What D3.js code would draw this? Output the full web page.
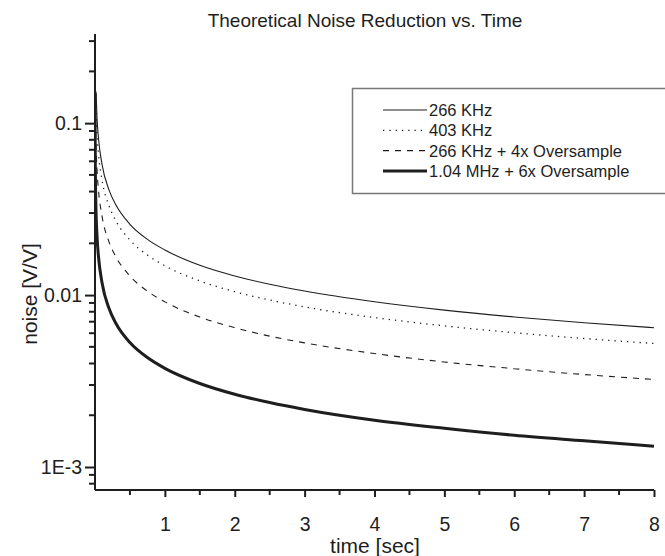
<!DOCTYPE html>
<html>
<head>
<meta charset="utf-8">
<script src="https://cdn.jsdelivr.net/npm/d3@7"></script>
<style>
  body { margin: 0; background: #fff; }
  svg { display: block; font-family: "Liberation Sans", Arial, sans-serif; }
</style>
</head>
<body>
<svg id="chart" width="665" height="556"></svg>
<script>
// values: [time (s), noise (V/V)]
var khz266 = [[0.015, 0.1492], [0.03, 0.1055], [0.05, 0.0817], [0.1, 0.0578], [0.2, 0.0409],
    [0.3, 0.0334], [0.5, 0.0258], [0.75, 0.0211], [1, 0.0183], [1.5, 0.0149], [2, 0.01292],
    [2.5, 0.01156], [3, 0.01055], [4, 0.00914], [5, 0.00817], [6, 0.00746], [7, 0.00691], [8, 0.00646]];
var khz403 = [[0.01, 0.148], [0.03, 0.0854], [0.05, 0.0662], [0.1, 0.0468], [0.2, 0.0331],
    [0.3, 0.0270], [0.5, 0.0209], [0.75, 0.0171], [1, 0.0148], [1.5, 0.01208], [2, 0.01047],
    [2.5, 0.00936], [3, 0.00854], [4, 0.0074], [5, 0.00662], [6, 0.00604], [7, 0.00559], [8, 0.00523]];
var khz266x4 = [[0.004, 0.1444], [0.01, 0.0913], [0.03, 0.0527], [0.05, 0.0408], [0.1, 0.0289],
    [0.2, 0.0204], [0.3, 0.01667], [0.5, 0.01291], [0.75, 0.01054], [1, 0.00913], [1.5, 0.00745],
    [2, 0.00646], [2.5, 0.00577], [3, 0.00527], [4, 0.00457], [5, 0.00408], [6, 0.00373], [7, 0.00345], [8, 0.00323]];
var mhz104x6 = [[0.0006, 0.1530], [0.002, 0.0838], [0.005, 0.0530], [0.01, 0.0375], [0.03, 0.02164],
    [0.05, 0.01676], [0.1, 0.01185], [0.2, 0.00838], [0.3, 0.00684], [0.5, 0.0053], [0.75, 0.00433],
    [1, 0.00375], [1.5, 0.00306], [2, 0.00265], [2.5, 0.00237], [3, 0.00216], [4, 0.00187],
    [5, 0.00168], [6, 0.00153], [7, 0.00142], [8, 0.00132]];

var seriesNames = ["266 KHz", "403 KHz", "266 KHz + 4x Oversample", "1.04 MHz + 6x Oversample"];
var xMajor = [1, 2, 3, 4, 5, 6, 7, 8];
var xMinor = [0.5, 1.5, 2.5, 3.5, 4.5, 5.5, 6.5, 7.5];
var yMajor = [0.1, 0.01, 0.001];
var yMajorLabels = ["0.1", "0.01", "1E-3"];
var yMinor = [0.3, 0.2, 0.09, 0.08, 0.07, 0.06, 0.05, 0.04, 0.03, 0.02,
    0.009, 0.008, 0.007, 0.006, 0.005, 0.004, 0.003, 0.002, 0.0009, 0.0008];

var ink = "#1e1e1e";
var svg = d3.select("#chart");

var x = d3.scaleLinear().domain([0, 8]).range([95, 654]);
var y = d3.scaleLog().domain([0.000735, 0.33]).range([490, 34]);

var styles = [
    { width: 1.1, dash: null },
    { width: 1.3, dash: "1.3,5" },
    { width: 1.1, dash: "6,6" },
    { width: 3, dash: null }
];

svg.append("defs").append("clipPath").attr("id", "plot")
    .append("rect").attr("x", x(0)).attr("y", y.range()[1])
    .attr("width", x(8) - x(0) + 2).attr("height", y.range()[0] - y.range()[1]);

var line = d3.line()
    .x(function(d) { return x(d[0]); })
    .y(function(d) { return y(d[1]); })
    .curve(d3.curveMonotoneX);

var curves = svg.append("g").attr("clip-path", "url(#plot)");
[khz266, khz403, khz266x4, mhz104x6].forEach(function(s, i) {
    curves.append("path")
        .datum(s)
        .attr("fill", "none")
        .attr("stroke", ink)
        .attr("stroke-width", styles[i].width)
        .attr("stroke-dasharray", styles[i].dash)
        .attr("d", line);
});

// axes
var xAxis = svg.append("g").attr("transform", "translate(0," + y.range()[0] + ")");
xAxis.call(d3.axisBottom(x).tickValues(xMajor).tickSize(7).tickPadding(20).tickFormat(d3.format("d")));
xAxis.call(function(g) {
    g.selectAll(".minor").data(xMinor).enter().append("line")
        .attr("class", "minor").attr("x1", x).attr("x2", x).attr("y1", 0).attr("y2", 5);
});

var yAxis = svg.append("g").attr("transform", "translate(" + x(0) + ",0)");
yAxis.call(d3.axisLeft(y).tickValues(yMajor).tickSize(10).tickPadding(3)
    .tickFormat(function(d, i) { return yMajorLabels[i]; }));
yAxis.call(function(g) {
    g.selectAll(".minor").data(yMinor).enter().append("line")
        .attr("class", "minor").attr("y1", y).attr("y2", y).attr("x1", 0).attr("x2", -6);
});

[xAxis, yAxis].forEach(function(g) {
    g.select(".domain").attr("stroke", ink).attr("stroke-width", 2);
    g.selectAll("line").attr("stroke", ink).attr("stroke-width", 2);
    g.selectAll("text").attr("font-size", 19.5).attr("fill", ink)
        .attr("font-family", "'Liberation Sans', Arial, sans-serif");
});
xAxis.select(".domain").attr("d", "M" + x(0) + ",0H" + x(8));
yAxis.select(".domain").attr("d", "M0," + y.range()[0] + "V" + y.range()[1]);

// titles
svg.append("text").attr("x", 365).attr("y", 27).attr("text-anchor", "middle")
    .attr("font-size", 19).attr("fill", ink).text("Theoretical Noise Reduction vs. Time");
svg.append("text").attr("x", 375).attr("y", 553).attr("text-anchor", "middle")
    .attr("font-size", 21).attr("fill", ink).text("time [sec]");
svg.append("text").attr("transform", "translate(37,294) rotate(-90)").attr("text-anchor", "middle")
    .attr("font-size", 21).attr("fill", ink).text("noise [V/V]");

// legend
var legend = svg.append("g");
legend.append("rect").attr("x", 352.5).attr("y", 88.5).attr("width", 320).attr("height", 105)
    .attr("fill", "#fff").attr("stroke", "#777").attr("stroke-width", 1.5);
var rows = legend.selectAll(".row").data(seriesNames).enter().append("g")
    .attr("transform", function(d, i) { return "translate(0," + (110 + i * 20.3) + ")"; });
rows.append("line").attr("x1", 383).attr("x2", 427).attr("y1", 0).attr("y2", 0)
    .attr("stroke", ink)
    .attr("stroke-width", function(d, i) { return styles[i].width; })
    .attr("stroke-dasharray", function(d, i) { return styles[i].dash; });
rows.append("text").attr("x", 429).attr("y", 6).attr("font-size", 16.5).attr("fill", ink)
    .text(function(d) { return d; });
</script>
</body>
</html>
